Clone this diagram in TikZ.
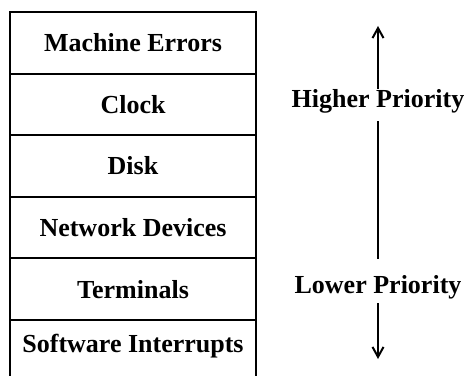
\documentclass[tikz,border=0pt]{standalone}
\usepackage{fontspec}
\setmainfont{Liberation Serif}
\usepackage{tikz}
\usetikzlibrary{positioning,arrows.meta}
\tikzstyle{level} = [draw, line width=1pt, outer sep=0pt, minimum width=123pt, minimum height=30.8pt, inner sep=0pt, font=\bfseries\fontsize{13}{15}\selectfont]
\tikzstyle{prio} = [inner sep=0pt, font=\bfseries\fontsize{13}{15}\selectfont]
\tikzstyle{arrow} = [line width=1pt,-{Straight Barb[length=5pt,width=5.5pt]}]

\begin{document}
\begin{tikzpicture}[x=0.5pt,y=-0.5pt,node distance=0pt]
            \useasboundingbox (0,0) rectangle (464,378);
            \node (merr) [level] at (133,42.8) {Machine Errors};
            \node (clock) [level, below=of merr] {Clock};
            \node (disk) [level, below=of clock] {Disk};
            \node (net) [level, below=of disk] {Network Devices};
            \node (term) [level, below=of net] {Terminals};
            \node (soft) [level, draw=none, minimum height=26pt, below=of term] {Software Interrupts};
            \draw[line width=1pt] (soft.north west) -- ([yshift=-2pt]soft.south west);
            \draw[line width=1pt] (soft.north east) -- ([yshift=-2pt]soft.south east);

            \node (hi) [prio] at (378,101) {Higher Priority};
            \node (lo) [prio] at (378,287) {Lower Priority};
            \coordinate (top) at (378,26);
            \coordinate (bottom) at (378,359);

            \draw [arrow] (hi.north) -- (top);
            \draw [line width=1pt] ([yshift=-4pt]hi.south) -- ([yshift=8pt]lo.north);
            \draw [arrow] ([yshift=-2pt]lo.south) -- (bottom);
        \end{tikzpicture}
\end{document}
